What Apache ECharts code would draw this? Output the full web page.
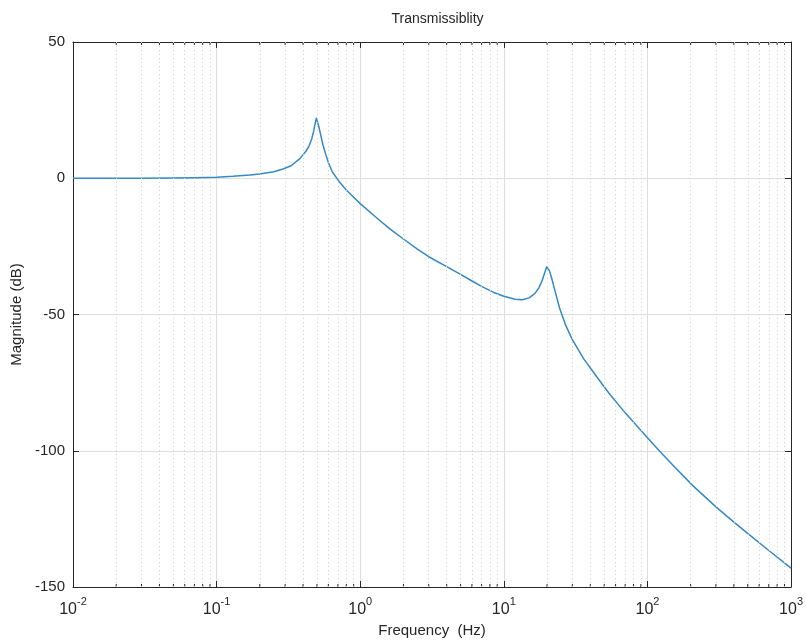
<!DOCTYPE html>
<html>
<head>
<meta charset="utf-8">
<script src="https://cdn.jsdelivr.net/npm/echarts@6/dist/echarts.min.js"></script>
<style>html,body{margin:0;padding:0;background:#fff;}#c{width:806px;height:643px;}</style>
</head>
<body>
<div id="c"></div>
<script>
// Frequency (Hz) and magnitude (dB)
const freqHz = [0.01,0.02,0.03,0.05,0.07,0.1,0.13,0.17,0.2,0.25,0.29,0.33,0.38,0.42,0.44,0.46,0.475,0.487,0.495,0.503,0.515,0.53,0.55,0.575,0.6,0.64,0.68,0.72,0.8,0.9,1.0,1.3,1.6,2.0,2.5,3.0,4.0,5.0,6.0,7.0,8.5,10,12,13.5,15,16.5,17.5,18.5,19.3,19.9,20.3,20.8,21.5,22.5,24.4,27,30,36,45,54,70,100,121,150,206,300,400,511,700,1000];
const magDb = [0,0.02,0.04,0.1,0.2,0.4,0.7,1.2,1.6,2.4,3.4,4.6,7.2,10,11.8,14.5,17.5,20.5,22,21.5,19,16,12.3,8.8,5.8,2.3,0.3,-1.5,-4.3,-7.0,-9.3,-14.5,-18.5,-22.3,-26,-28.8,-32.4,-35.3,-37.7,-39.7,-41.9,-43.3,-44.4,-44.6,-43.9,-42.2,-40.3,-37.5,-34.5,-32.5,-32.6,-34,-36.5,-40.5,-47.5,-54,-59.2,-66.3,-73.3,-78.9,-86.1,-95.2,-100,-105.2,-112.7,-120.6,-126.2,-130.8,-136.6,-143.1];
const minorX = [0.02,0.03,0.04,0.05,0.06,0.07,0.08,0.09,0.2,0.3,0.4,0.5,0.6,0.7,0.8,0.9,2,3,4,5,6,7,8,9,20,30,40,50,60,70,80,90,200,300,400,500,600,700,800,900];
const yTicks = [-150,-100,-50,0,50];
const titleText = 'Transmissiblity';
const xName = 'Frequency  (Hz)';
const yName = 'Magnitude (dB)';

const FONT = 'Liberation Sans, Arial, Helvetica, sans-serif';
const INK = '#262626';
const chart = echarts.init(document.getElementById('c'));
const curve = freqHz.map((f, i) => [f, magDb[i]]);
const yMin = yTicks[0], yMax = yTicks[yTicks.length - 1];

chart.setOption({
  animation: false,
  backgroundColor: '#fff',
  title: {
    text: titleText, left: 432.5, top: 7, textAlign: 'center',
    textStyle: {fontFamily: FONT, fontSize: 14, fontWeight: 'normal', color: INK}
  },
  grid: {left: 73, right: 14, top: 42, bottom: 54, containLabel: false},
  xAxis: [{
    type: 'log', logBase: 10, min: 0.01, max: 1000, position: 'bottom',
    name: xName, nameLocation: 'middle', nameGap: 36,
    nameTextStyle: {fontFamily: FONT, fontSize: 15, color: INK},
    axisLine: {show: true, onZero: false, lineStyle: {color: INK, width: 1}},
    axisTick: {show: true, inside: true, length: 6, lineStyle: {color: INK}},
    axisLabel: {
      margin: 9, fontFamily: FONT, color: INK,
      formatter: v => '{b|10}{s|' + Math.round(Math.log10(v)) + '}',
      rich: {
        b: {fontFamily: FONT, fontSize: 16, color: INK, lineHeight: 22, verticalAlign: 'bottom'},
        s: {fontFamily: FONT, fontSize: 11, color: INK, lineHeight: 22, verticalAlign: 'top'}
      }
    },
    splitLine: {show: true, lineStyle: {color: '#dedede', width: 1}}
  }, {
    type: 'log', logBase: 10, min: 0.01, max: 1000, position: 'top',
    axisLine: {show: true, onZero: false, lineStyle: {color: INK, width: 1}},
    axisTick: {show: true, inside: true, length: 6, lineStyle: {color: INK}},
    axisLabel: {show: false}, splitLine: {show: false}
  }],
  yAxis: [{
    type: 'value', min: yMin, max: yMax, interval: 50, position: 'left',
    name: yName, nameLocation: 'middle', nameGap: 41,
    nameTextStyle: {fontFamily: FONT, fontSize: 15, color: INK},
    axisLine: {show: true, onZero: false, lineStyle: {color: INK, width: 1}},
    axisTick: {show: true, inside: true, length: 6, lineStyle: {color: INK}},
    axisLabel: {margin: 8, fontFamily: FONT, fontSize: 15, color: INK},
    splitLine: {show: true, lineStyle: {color: '#dedede', width: 1}}
  }, {
    type: 'value', min: yMin, max: yMax, interval: 50, position: 'right',
    axisLine: {show: true, onZero: false, lineStyle: {color: INK, width: 1}},
    axisTick: {show: true, inside: true, length: 6, lineStyle: {color: INK}},
    axisLabel: {show: false}, splitLine: {show: false}
  }],
  series: [{
    type: 'line', xAxisIndex: 0, yAxisIndex: 0, data: [], silent: true,
    markLine: {
      silent: true, symbol: ['none', 'none'], label: {show: false},
      lineStyle: {color: '#cfcfcf', type: [1, 3], width: 1},
      data: minorX.map(v => ({xAxis: v}))
    }
  }, {
    type: 'custom', xAxisIndex: 0, yAxisIndex: 0, silent: true,
    data: minorX.map(v => [v]),
    renderItem: (params, api) => {
      const x = api.value(0);
      const pb = api.coord([x, yMin]);
      const pt = api.coord([x, yMax]);
      const st = {stroke: INK, lineWidth: 1};
      return {type: 'group', children: [
        {type: 'line', shape: {x1: pb[0], y1: pb[1], x2: pb[0], y2: pb[1] - 3}, style: st},
        {type: 'line', shape: {x1: pt[0], y1: pt[1], x2: pt[0], y2: pt[1] + 3}, style: st}
      ]};
    }
  }, {
    type: 'line', xAxisIndex: 0, yAxisIndex: 0, data: curve,
    showSymbol: false, smooth: false,
    lineStyle: {color: '#3589c6', width: 1.5, join: 'round'}, silent: true
  }]
});
</script>
</body>
</html>
